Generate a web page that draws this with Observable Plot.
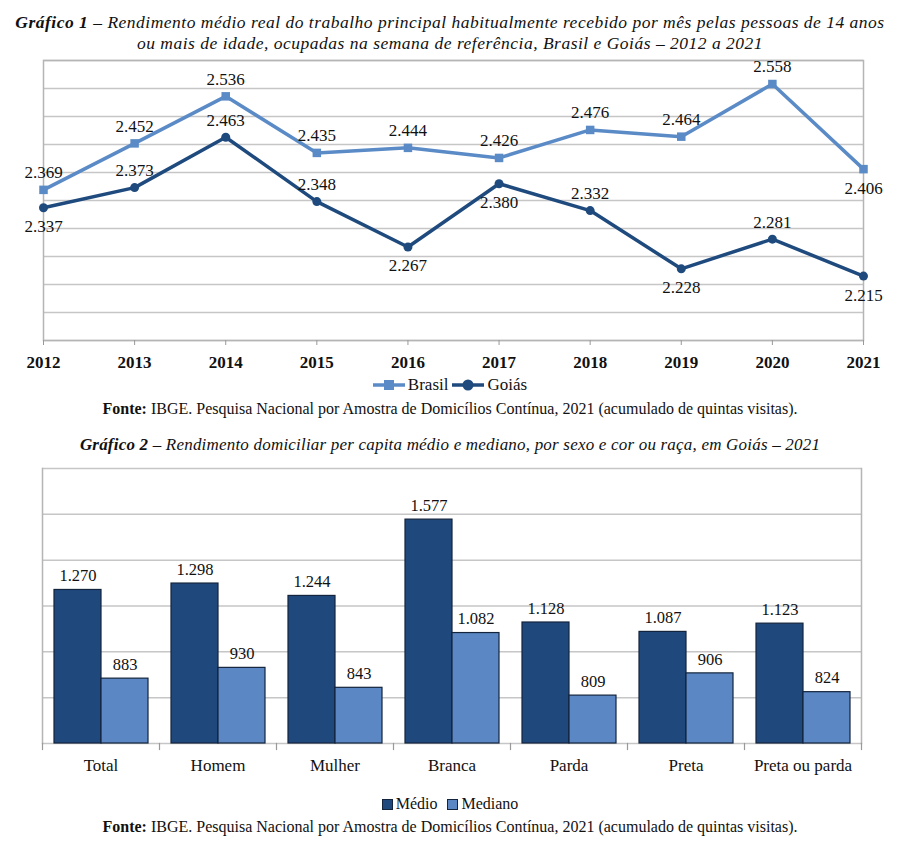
<!DOCTYPE html>
<html><head><meta charset="utf-8">
<script src="https://cdn.jsdelivr.net/npm/d3@7"></script>
<script src="https://cdn.jsdelivr.net/npm/@observablehq/plot@0.6"></script>
<style>
body{margin:0;background:#fff;width:900px;height:850px;position:relative;overflow:hidden;font-family:"Liberation Serif","Times New Roman",serif;color:#111}
.abs{position:absolute;left:0;width:900px;text-align:center}
.title{font-family:"Liberation Serif","Times New Roman",serif;font-style:italic;font-size:17.5px;line-height:21px;letter-spacing:0.5px}
.title b{font-weight:bold}
.fonte{font-size:16px;line-height:18px}
.leg{display:flex;justify-content:center;align-items:center;gap:4px;font-size:17px;font-family:"Liberation Serif","Times New Roman",serif}
.leg span{display:inline-flex;align-items:center;gap:3px}
svg{display:block}
</style></head>
<body>
<div class="abs title" style="top:12px"><b>Gráfico 1</b> – Rendimento médio real do trabalho principal habitualmente recebido por mês pelas pessoas de 14 anos<br>ou mais de idade, ocupadas na semana de referência, Brasil e Goiás – 2012 a 2021</div>
<div id="c1" class="abs" style="top:30px"></div>
<div id="l1" class="abs leg" style="top:373px;height:24px"></div>
<div class="abs fonte" style="top:400px"><b>Fonte:</b> IBGE. Pesquisa Nacional por Amostra de Domicílios Contínua, 2021 (acumulado de quintas visitas).</div>
<div class="abs title" style="top:434px;font-size:17px;letter-spacing:0.2px"><b>Gráfico 2</b> – Rendimento domiciliar per capita médio e mediano, por sexo e cor ou raça, em Goiás – 2021</div>
<div id="c2" class="abs" style="top:460px"></div>
<div id="l2" class="abs leg" style="top:792px;height:24px;font-size:16px"></div>
<div class="abs fonte" style="top:818px"><b>Fonte:</b> IBGE. Pesquisa Nacional por Amostra de Domicílios Contínua, 2021 (acumulado de quintas visitas).</div>
<script>
// ---------- Data: Gráfico 1 ----------
const years = [2012, 2013, 2014, 2015, 2016, 2017, 2018, 2019, 2020, 2021];
const brasil = [2369, 2452, 2536, 2435, 2444, 2426, 2476, 2464, 2558, 2406];
const goias  = [2337, 2373, 2463, 2348, 2267, 2380, 2332, 2228, 2281, 2215];
const lineSeries = ["Brasil", "Goiás"];
const brasilLabelsBelow = [2021];
const goiasLabelsBelow = [2012, 2016, 2017, 2019, 2021];
const yTicks1 = [2100, 2150, 2200, 2250, 2300, 2350, 2400, 2450, 2500, 2550, 2600];

// ---------- Data: Gráfico 2 ----------
const categories = ["Total", "Homem", "Mulher", "Branca", "Parda", "Preta", "Preta ou parda"];
const medio   = [1270, 1298, 1244, 1577, 1128, 1087, 1123];
const mediano = [883, 930, 843, 1082, 809, 906, 824];
const barSeries = ["Médio", "Mediano"];
const yTicks2 = [600, 800, 1000, 1200, 1400, 1600, 1800];

const colors1 = ["#5b8bc7", "#1f4a7e"];
const colors2 = ["#1f497d", "#5b88c4"];
const fmt = d3.formatLocale({decimal: ",", thousands: ".", grouping: [3], currency: ["R$", ""]}).format(",d");
const font = "Liberation Serif, Times New Roman, serif";

// ---------- Chart 1 ----------
const lineData = years.flatMap((y, i) => [
  {year: y, serie: "Brasil", v: brasil[i]},
  {year: y, serie: "Goiás", v: goias[i]}
]);
const isBelow = d => (d.serie === "Brasil" ? brasilLabelsBelow : goiasLabelsBelow).includes(d.year);
const labelStyle = {fontSize: 17, fontFamily: font, fill: "#111", letterSpacing: "0.5px"};

const c1 = Plot.plot({
  width: 900, height: 340,
  marginLeft: 43, marginRight: 37, marginTop: 30, marginBottom: 30,
  style: {fontFamily: font, fontSize: "17px", color: "#111", background: "transparent", overflow: "visible"},
  x: {domain: [2012, 2021]},
  y: {domain: [2100, 2600]},
  color: {domain: lineSeries, range: colors1},
  marks: [
    Plot.gridY(yTicks1, {stroke: "#c6c6c6", strokeOpacity: 1, strokeWidth: 1.5}),
    Plot.frame({stroke: "#b5b5b5", strokeWidth: 1.5}),
    Plot.axisX({ticks: years, tickFormat: "d", tickSize: 5, tickPadding: 10, stroke: "#999", fill: "#111", fontWeight: "bold", fontSize: 17, fontFamily: font, label: null}),
    Plot.axisY({ticks: [], label: null}),
    Plot.line(lineData, {x: "year", y: "v", stroke: "serie", z: "serie", strokeWidth: 3.5}),
    Plot.dot(lineData.filter(d => d.serie === "Brasil"), {x: "year", y: "v", symbol: "square", r: 4.8, fill: colors1[0]}),
    Plot.dot(lineData.filter(d => d.serie === "Goiás"), {x: "year", y: "v", symbol: "circle", r: 4.5, fill: colors1[1]}),
    Plot.text(lineData.filter(d => !isBelow(d)), {x: "year", y: "v", text: d => fmt(d.v), dy: -17, ...labelStyle}),
    Plot.text(lineData.filter(d => isBelow(d)), {x: "year", y: "v", text: d => fmt(d.v), dy: 19, ...labelStyle})
  ]
});
document.getElementById("c1").appendChild(c1);

// legend 1 (line + marker swatches)
const l1 = document.getElementById("l1");
lineSeries.forEach((s, i) => {
  const shape = i === 0
    ? `<rect x="11" y="6" width="10" height="10" fill="${colors1[i]}"/>`
    : `<circle cx="16" cy="11" r="5.5" fill="${colors1[i]}"/>`;
  const span = document.createElement("span");
  span.innerHTML = `<svg width="32" height="22"><line x1="0" x2="32" y1="11" y2="11" stroke="${colors1[i]}" stroke-width="3.5"/>${shape}</svg>${s}`;
  l1.appendChild(span);
});

// ---------- Chart 2 ----------
const barData = categories.flatMap((c, i) => [
  {cat: c, s: barSeries[0], v: medio[i]},
  {cat: c, s: barSeries[1], v: mediano[i]}
]);

const c2 = Plot.plot({
  width: 900, height: 318,
  marginLeft: 40, marginRight: 38, marginTop: 8, marginBottom: 35,
  style: {fontFamily: font, fontSize: "16px", color: "#111", background: "transparent", overflow: "visible"},
  fx: {domain: categories, padding: 0, label: null, axis: null},
  x: {domain: barSeries, paddingInner: 0, paddingOuter: 0.24, axis: null},
  y: {domain: [600, 1800], axis: null},
  color: {domain: barSeries, range: colors2},
  marks: [
    Plot.gridY(yTicks2, {stroke: "#c6c6c6", strokeOpacity: 1, strokeWidth: 1.5}),
    Plot.frame({anchor: "left", facetAnchor: "left", stroke: "#b5b5b5", strokeWidth: 1.5}),
    Plot.frame({anchor: "right", facetAnchor: "right", stroke: "#b5b5b5", strokeWidth: 1.5}),
    Plot.frame({anchor: "left", insetTop: 275, insetBottom: -6, stroke: "#999", strokeWidth: 1.2}),
    Plot.frame({anchor: "right", facetAnchor: "right", insetTop: 275, insetBottom: -6, stroke: "#999", strokeWidth: 1.2}),
    Plot.barY(barData, {fx: "cat", x: "s", y1: 600, y2: "v", fill: "s", stroke: "#13243c", strokeWidth: 1.2}),
    Plot.text(barData, {fx: "cat", x: "s", y: "v", text: d => fmt(d.v), dy: -14, fontSize: 16.5, fontFamily: font, fill: "#111", letterSpacing: "0.5px"}),
    Plot.axisFx({anchor: "bottom", tickSize: 0, tickPadding: 15, fontSize: 17, fontFamily: font, fill: "#111", label: null})
  ]
});
document.getElementById("c2").appendChild(c2);

// legend 2 (square swatches)
const l2 = document.getElementById("l2");
l2.style.gap = "10px";
barSeries.forEach((s, i) => {
  const span = document.createElement("span");
  span.innerHTML = `<svg width="11" height="11"><rect x="0.5" y="0.5" width="10" height="10" fill="${colors2[i]}" stroke="#13243c"/></svg>${s}`;
  l2.appendChild(span);
});
</script>
</body></html>
